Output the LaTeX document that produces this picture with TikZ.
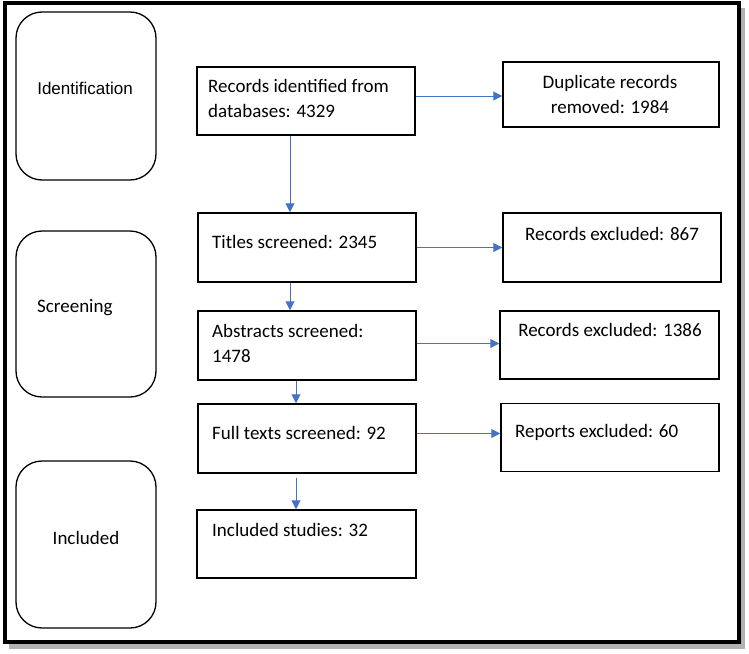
\documentclass[tikz,border=0pt]{standalone}
\usepackage{fontspec}
\setmainfont{Carlito}
\newfontfamily\arialfont{Liberation Sans}
\usetikzlibrary{arrows.meta}
\definecolor{flowblau}{HTML}{4472C4}
\tikzset{
  stufe/.style={draw=black,line width=1.3pt,rounded corners=26pt,minimum width=140pt,inner sep=0pt},
  kasten/.style={draw=black,line width=1.5pt,minimum width=218pt,minimum height=68pt,inner sep=0pt},
  txt/.style={font=\fontsize{19}{25}\selectfont,align=left,inner sep=0pt,anchor=west},
  flow/.style={-{Triangle[length=9pt,width=9pt]},flowblau,line width=1pt},
}
\begin{document}
\begin{tikzpicture}[x=1pt,y=-1pt]
  \useasboundingbox (0,0) rectangle (749,653);
  % frame with shadow
  \fill[black!30] (9,8) rectangle (745,649);
  \draw[fill=white,line width=4.5pt] (5,3) rectangle (739,642);
  % phases
  \node[stufe,minimum height=168pt] (ident) at (86,96) {};
  \node[stufe,minimum height=166pt] (screen) at (86,314) {};
  \node[stufe,minimum height=167pt] (incl) at (86,544.5) {};
  \node[font=\arialfont\fontsize{17}{20}\selectfont,inner sep=0pt] (identT) at (85,88) {Identification};
  \node[txt] (screenT) at (37,308) {Screening};
  \node[txt,anchor=center] (inclT) at (86,538) {Included};
  % boxes
  \node[kasten] (recs) at (306,101) {};
  \node[kasten,minimum width=216pt,minimum height=65pt] (dup) at (611,94.5) {};
  \node[kasten,minimum height=69pt] (titles) at (307,247.5) {};
  \node[kasten,minimum height=69pt] (excl1) at (612,247.5) {};
  \node[kasten,minimum height=69pt] (abstr) at (307,345.5) {};
  \node[kasten,minimum width=219pt] (excl2) at (609.5,345) {};
  \node[kasten,minimum height=69pt] (full) at (307,438.5) {};
  \node[kasten] (reports) at (610,437.5) {};
  \node[kasten,minimum width=219pt] (studies) at (306.5,544) {};
  % texts
  \node[txt] (recsT) at (208,98.5) {Records identified from\\databases: 4329};
  \node[txt,anchor=center,align=center] (dupT) at (610,94.5) {Duplicate records\\removed: 1984};
  \node[txt] (titlesT) at (212,242) {Titles screened: 2345};
  \node[txt,anchor=center] (excl1T) at (612,234) {Records excluded: 867};
  \node[txt] (abstrT) at (212,343) {Abstracts screened:\\1478};
  \node[txt,anchor=center] (excl2T) at (610,330) {Records excluded: 1386};
  \node[txt] (fullT) at (212,433) {Full texts screened: 92};
  \node[txt] (reportsT) at (515,432) {Reports excluded: 60};
  \node[txt] (studiesT) at (212,530) {Included studies: 32};
  % arrows
  \draw[flow] ([yshift=5pt]recs.east) -- ([yshift=5pt]recs.east -| dup.west);
  \draw[flow] (titles.east) -- (titles.east -| excl1.west);
  \draw[flow] ([yshift=2pt]abstr.east) -- ([yshift=2pt]abstr.east -| excl2.west);
  \draw[flow] ([yshift=5pt]full.east) -- ([yshift=5pt]full.east -| reports.west);
  \draw[flow] ([xshift=-16pt]recs.south) -- ([xshift=-16pt]recs.south |- titles.north);
  \draw[flow] ([xshift=-17pt]titles.south) -- ([xshift=-17pt]titles.south |- abstr.north);
  \draw[flow] ([xshift=-11pt]abstr.south) -- ([xshift=-11pt]abstr.south |- full.north);
  \draw[flow,shorten <=4pt] ([xshift=-11pt]full.south) -- ([xshift=-11pt]full.south |- studies.north);
\end{tikzpicture}
\end{document}
